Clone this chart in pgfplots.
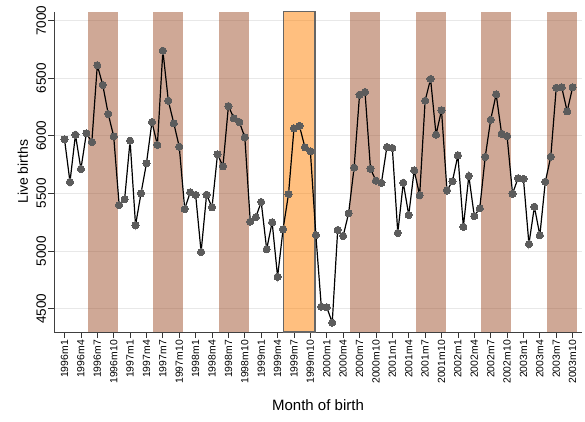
\documentclass[border=0pt]{standalone}
\usepackage{fontspec}
\setmainfont{Liberation Sans}
\usepackage{pgfplots}
\pgfplotsset{compat=1.18}
\definecolor{sienna}{RGB}{160,82,45}
\definecolor{storange}{RGB}{255,128,0}
\definecolor{mk}{RGB}{92,92,92}
\begin{document}
\begin{tikzpicture}
\path[use as bounding box] (0,0) rectangle (585pt,421pt);
\begin{axis}[
  at={(54.3pt,89pt)}, anchor=south west,
  scale only axis, width=527.4pt, height=320.3pt,
  xmin=-1.87, xmax=94.66, ymin=4297, ymax=7078,
  axis x line*=bottom, axis y line*=left,
  x axis line style={-, black!75, line width=0.8pt},
  y axis line style={-, black!75, line width=0.8pt},
  tick align=outside, major tick length=6pt,
  tick style={black!80, line width=0.8pt},
  xtick={0,3,...,93},
  xticklabels={1996m1,1996m4,1996m7,1996m10,1997m1,1997m4,1997m7,1997m10,1998m1,1998m4,1998m7,1998m10,1999m1,1999m4,1999m7,1999m10,2000m1,2000m4,2000m7,2000m10,2001m1,2001m4,2001m7,2001m10,2002m1,2002m4,2002m7,2002m10,2003m1,2003m4,2003m7,2003m10},
  ytick={4500,5000,5500,6000,6500,7000},
  yticklabels={4500,5000,5500,6000,6500,7000},
  x tick label style={font=\fontsize{10.4}{11}\selectfont, rotate=90, anchor=east, inner sep=2pt},
  y tick label style={font=\fontsize{13.5}{14}\selectfont, rotate=90, anchor=south, inner sep=2pt},
  xlabel={Month of birth},
  xlabel style={font=\fontsize{15}{16}\selectfont, yshift=-11pt},
  ylabel={Live births},
  ylabel style={font=\fontsize{14}{15}\selectfont, yshift=3pt},
  ymajorgrids, major grid style={black!9, line width=0.8pt},
  clip=true,
]
% shaded bands (Jun-Oct)
\addplot[fill=sienna, fill opacity=0.5, draw=none] coordinates {(4.25,4297) (9.75,4297) (9.75,7078) (4.25,7078)} --cycle;
\addplot[fill=sienna, fill opacity=0.5, draw=none] coordinates {(16.25,4297) (21.75,4297) (21.75,7078) (16.25,7078)} --cycle;
\addplot[fill=sienna, fill opacity=0.5, draw=none] coordinates {(28.25,4297) (33.75,4297) (33.75,7078) (28.25,7078)} --cycle;
\addplot[fill=storange, fill opacity=0.5, draw=black!60, line width=1.6pt] coordinates {(40.1,4297) (45.9,4297) (45.9,7078) (40.1,7078)} --cycle;
\addplot[fill=sienna, fill opacity=0.5, draw=none] coordinates {(52.25,4297) (57.75,4297) (57.75,7078) (52.25,7078)} --cycle;
\addplot[fill=sienna, fill opacity=0.5, draw=none] coordinates {(64.25,4297) (69.75,4297) (69.75,7078) (64.25,7078)} --cycle;
\addplot[fill=sienna, fill opacity=0.5, draw=none] coordinates {(76.25,4297) (81.75,4297) (81.75,7078) (76.25,7078)} --cycle;
\addplot[fill=sienna, fill opacity=0.5, draw=none] coordinates {(88.25,4297) (93.75,4297) (93.75,7078) (88.25,7078)} --cycle;
% live births
\addplot[black, line width=1.2pt, mark=*, mark size=3.6pt, mark options={fill=mk, draw=mk, line width=0pt}] table {
x y
0 5970
1 5600
2 6010
3 5712
4 6022
5 5947
6 6613
7 6442
8 6190
9 5996
10 5400
11 5449
12 5958
13 5224
14 5501
15 5762
16 6120
17 5921
18 6739
19 6305
20 6109
21 5906
22 5365
23 5510
24 5487
25 4992
26 5489
27 5380
28 5840
29 5736
30 6259
31 6152
32 6120
33 5988
34 5255
35 5293
36 5426
37 5015
38 5250
39 4777
40 5189
41 5495
42 6066
43 6086
44 5901
45 5866
46 5139
47 4517
48 4512
49 4378
50 5183
51 5131
52 5328
53 5724
54 6357
55 6381
56 5715
57 5611
58 5591
59 5903
60 5895
61 5157
62 5593
63 5313
64 5701
65 5484
66 6305
67 6494
68 6010
69 6223
70 5526
71 5606
72 5831
73 5211
74 5652
75 5304
76 5371
77 5817
78 6140
79 6361
80 6019
81 5999
82 5498
83 5632
84 5626
85 5061
86 5385
87 5137
88 5602
89 5819
90 6418
91 6422
92 6213
93 6422
};
\end{axis}
\end{tikzpicture}
\end{document}
